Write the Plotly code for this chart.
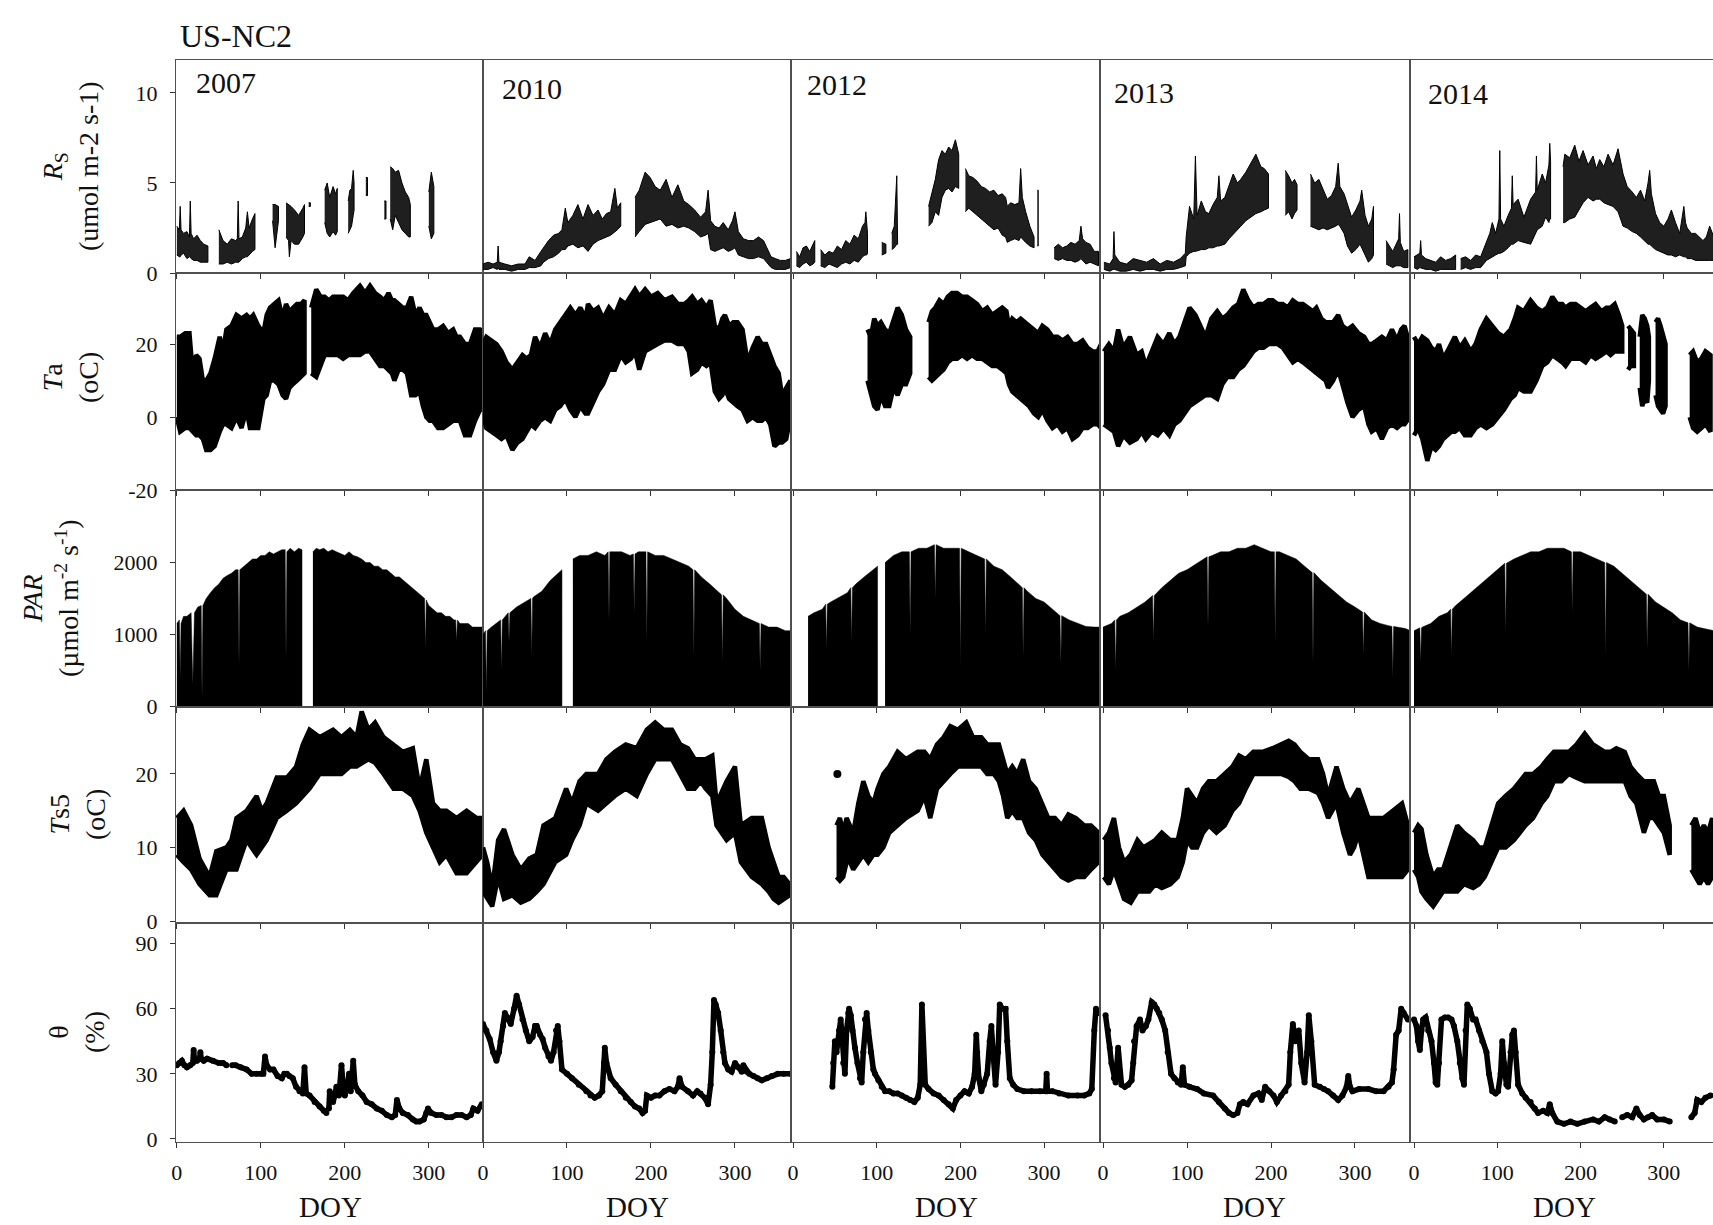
import plotly.graph_objects as go

# ---------------- DATA ----------------
YEARS = ["2007", "2010", "2012", "2013", "2014"]
X_TICKS = [0, 100, 200, 300]

# Soil respiration Rs: lower / upper envelope of the half-hourly trace
RS_2007_DOY = [0,3,4,5,8,12,15,16,17,20,24,28,32,37, None,
               50,55,60,65,70,72,73,74,78,82,84,86,90,93, None,
               114,117,121, None,
               130,133,134,136,140,145,150,152, None,
               157,159, None,
               176,179,182,186,189,191, None,
               204,206,208,210,211, None,
               225,227, None,
               247,249, None,
               254,257,260,264,268,272,276,278, None,
               300,303,306]
RS_2007_LO = [1.0,0.9,0.9,1.0,1.1,0.8,0.9,0.9,0.8,0.7,0.7,0.6,0.6,0.6, None,
              0.5,0.5,0.6,0.5,0.6,0.6,0.6,0.6,0.8,0.9,0.9,1.0,1.2,1.3, None,
              2.9,1.4,2.9, None,
              2.0,1.8,0.9,1.8,1.6,1.6,2.0,2.2, None,
              3.7,3.7, None,
              2.8,2.2,2.0,2.3,2.1,2.3, None,
              2.2,2.4,2.6,3.2,3.5, None,
              4.3,4.3, None,
              3.0,3.0, None,
              3.0,2.4,3.2,2.8,2.4,2.2,2.0,2.0, None,
              2.6,1.9,2.2]
RS_2007_HI = [2.6,2.4,3.7,2.4,2.2,2.3,2.0,4.0,2.2,1.9,2.1,1.8,1.6,1.5, None,
              2.4,1.8,1.6,1.9,1.8,1.9,4.0,1.9,2.0,2.5,3.4,2.5,3.0,3.3, None,
              3.8,3.8,3.7, None,
              3.9,3.8,3.8,3.7,3.5,3.2,3.6,3.8, None,
              3.9,3.9, None,
              4.6,5.0,4.2,4.8,4.4,4.7, None,
              4.0,4.6,4.7,5.7,5.0, None,
              5.3,5.3, None,
              4.0,4.0, None,
              5.9,5.8,5.6,5.7,5.0,4.5,4.2,3.8, None,
              4.5,5.6,4.8]

RS_2010_DOY = [0,6,12,17,18,19,26,34,42,50,55,62,69,72,78,84,90,94,98,101,107,113,119,125,131,137,142,147,152,157,160,164, None,
               181,186,193,199,205,211,218,225,232,239,245,252,259,265,268,271,276,281,286,292,297,300,304,310,316,322,328,334,338,343,348,354,360,366]
RS_2010_LO = [0.2,0.2,0.3,0.2,0.3,0.2,0.2,0.1,0.2,0.2,0.3,0.3,0.4,0.6,0.8,0.9,1.1,1.3,1.3,1.5,1.6,1.4,1.5,1.2,1.6,1.8,1.9,2.0,2.1,2.3,2.4,2.6, None,
              2.0,2.3,2.7,2.8,2.9,3.0,2.6,2.7,2.5,2.6,2.5,2.3,2.0,2.1,2.2,1.3,1.2,1.3,1.4,1.2,1.3,1.4,1.0,0.9,0.8,0.8,0.9,0.8,0.6,0.3,0.2,0.2,0.2,0.3]
RS_2010_HI = [0.5,0.6,0.5,0.6,1.5,0.6,0.5,0.4,0.5,0.5,0.9,0.7,1.2,1.4,1.8,2.1,2.2,2.4,3.6,2.8,3.2,3.8,3.0,3.8,3.2,3.5,3.0,3.3,3.4,4.7,3.6,3.9, None,
              4.2,4.6,5.6,5.3,4.8,4.6,5.2,4.2,4.9,4.0,3.8,3.5,3.1,3.4,4.6,2.9,2.6,2.5,2.8,2.4,2.9,3.4,2.3,1.9,1.8,1.8,2.0,1.8,1.4,0.9,0.8,0.7,0.7,0.8]

RS_2012_DOY = [4,8,12,16,20,24,26, None,
               33,38,43,48,53,58,63,68,73,78,83,86,87,88,89, None,
               106,111, None,
               118,121,124,125, None,
               162,166,170,174,178,182,186,190,194,198, None,
               206,210,215,220,225,230,235,240,245,250,254,256,260,265,270,272,274,278,283,288, None,
               292,293, None,
               312,317,322,327,332,337,342,344,346,350,355,360,365]
RS_2012_LO = [0.4,0.3,0.5,0.6,0.4,0.5,0.6, None,
              0.4,0.3,0.5,0.4,0.3,0.5,0.6,0.5,0.7,0.6,0.9,1.0,1.0,1.0,1.1, None,
              1.0,1.1, None,
              1.3,1.4,1.6,1.6, None,
              2.6,2.8,3.4,3.2,4.2,4.6,4.7,4.5,4.8,4.7, None,
              3.4,3.6,3.4,3.2,3.0,2.8,2.6,2.4,2.5,2.1,2.0,1.7,1.8,1.9,1.8,2.0,1.9,1.7,1.5,1.4, None,
              1.5,1.5, None,
              0.8,0.7,0.8,0.7,0.7,0.6,0.7,0.8,0.7,0.5,0.6,0.5,0.4]
RS_2012_HI = [1.2,0.9,1.4,1.5,1.2,1.6,1.8, None,
              1.3,1.0,1.2,1.1,1.5,1.3,1.8,1.6,2.1,1.9,2.6,2.8,3.4,2.7,2.2, None,
              1.7,1.6, None,
              2.2,2.6,5.4,3.0, None,
              3.7,4.5,5.2,6.3,6.8,6.6,7.0,6.8,7.4,6.6, None,
              5.8,5.4,5.3,5.1,4.8,4.7,4.5,4.6,4.3,4.4,4.2,3.7,3.9,3.8,3.9,5.8,4.2,3.4,2.6,2.0, None,
              4.6,4.6, None,
              1.4,1.6,1.4,1.5,1.7,1.6,1.8,2.6,1.9,1.7,1.6,1.2,1.2]

RS_2013_DOY = [1,8,12,13,14,20,28,36,44,52,60,68,76,84,92,98,
               99,103,108,110,112,117,122,126,131,136,138,140,145,150,155,160,164,170,176,182,188,192,197, None,
               217,221,225,228,231, None,
               247,252,257,262,267,272,277,280,282,287,291,296,301,306,308,312,316,320,322, None,
               337,341,345,349,352,353,354,358,363]
RS_2013_LO = [0.2,0.1,0.2,0.2,0.2,0.1,0.1,0.2,0.1,0.2,0.2,0.1,0.2,0.2,0.3,0.4,
              0.9,1.1,1.2,1.2,1.2,1.3,1.3,1.4,1.4,1.5,1.5,1.5,1.6,1.9,2.2,2.4,2.6,2.9,3.1,3.3,3.4,3.5,3.6, None,
              3.2,3.4,3.0,3.3,3.5, None,
              2.6,2.5,2.4,2.5,2.4,2.5,2.6,2.7,2.6,2.2,1.5,1.1,1.3,1.6,1.4,1.0,0.6,0.8,1.0, None,
              0.5,0.4,0.3,0.4,0.4,0.4,0.4,0.3,0.3]
RS_2013_HI = [0.6,0.5,0.8,2.3,1.0,0.6,0.5,0.8,0.7,0.6,0.8,0.5,0.7,0.6,0.8,1.1,
              2.0,3.7,3.0,6.5,3.2,4.0,3.4,3.3,3.8,4.2,5.4,4.0,4.2,4.8,5.5,5.0,5.2,5.6,6.1,6.6,5.9,5.8,5.5, None,
              5.7,5.4,5.0,5.2,4.9, None,
              5.5,5.0,5.2,4.6,4.1,4.3,4.8,6.1,4.8,4.4,3.8,3.1,3.5,4.0,4.6,3.2,2.6,3.0,3.7, None,
              1.8,1.5,1.2,1.6,1.9,3.3,1.7,1.2,1.3]

RS_2014_DOY = [0,4,7,8,9,14,20,26,32,38,44,50, None,
               56,62,68,74,80,87,91,94,98,102,103,104,108,113,117,118,119,125,132,140,146,147,148,154,158,162,163,164, None,
               179,181,187,193,198,203,209,215,219,223,228,233,239,245,251,256,262,267,272,277,
               281,283,285,290,295,300,305,309,314,319,324,326,328,333,338,343,347,351,355,360]
RS_2014_LO = [0.3,0.2,0.3,0.3,0.3,0.2,0.2,0.1,0.2,0.2,0.2,0.2, None,
              0.2,0.3,0.2,0.3,0.3,0.7,0.8,0.9,1.0,1.1,1.1,1.1,1.2,1.4,1.6,1.6,1.6,1.8,1.7,1.6,2.2,2.3,2.4,2.6,3.1,2.8,3.0,3.0, None,
              2.8,2.8,3.0,3.1,3.5,3.9,4.2,4.0,4.1,4.1,3.9,3.8,3.7,3.4,2.6,2.5,2.3,2.2,2.0,1.8,
              1.6,1.6,1.5,1.3,1.2,1.1,1.0,1.0,0.9,1.0,0.9,0.9,0.8,0.8,0.7,0.7,0.7,0.7,0.7,0.7]
RS_2014_HI = [0.9,1.0,1.1,1.8,1.0,0.8,0.7,0.6,0.9,0.7,0.8,1.0, None,
              0.8,0.9,0.7,1.0,0.9,1.8,2.2,2.8,2.2,3.0,6.8,3.0,2.6,3.2,3.6,5.4,3.8,4.1,3.1,4.1,4.5,6.5,4.6,5.5,5.0,6.0,7.2,6.2, None,
              5.9,6.6,6.4,7.1,6.2,6.8,6.0,6.5,5.8,6.3,5.9,6.6,6.0,6.9,5.5,4.8,4.5,4.2,4.6,4.0,
              5.0,5.7,4.4,3.3,2.8,2.6,3.0,3.5,2.8,2.2,3.7,2.8,2.5,2.2,2.2,2.0,1.8,2.0,2.6,2.0]

# Air temperature Ta: lower / upper envelope
TA_2007_DOY = [0,4,10,15,19,23,27,31,35,40,45,51,55,59,65,71,77,83,87,91,97,103,107,111,116,121,126,130,134,138,143,148,152, None,
               160,166,171,176,181,186,192,198,204,210,218,224,230,236,242,247,252,256,259,264,269,274,279,284,289,293,297,301,305,311,317,323,329,333,337,343,349,355,361,365]
TA_2007_HI = [22,22,23,23,12,17,16,10,10,12,16,22,18,24,25,28,27,28,27,28,25,23,28,30,31,32,27,31,29,30,31,31,32, None,
              30,35,33,33,32,33,33,33,32,34,36,34,36,34,33,32,34,32,32,31,30,30,33,28,30,28,28,26,24,24,25,23,24,22,22,20,20,24,24,23]
TA_2007_LO = [0,-4,-3,-3,-4,-5,-5,-6,-9,-9,-8,-4,-2,-2,-3,0,-3,2,-3,-3,-3,5,6,10,10,9,6,5,8,9,10,11,12, None,
              12,11,14,17,17,17,17,16,17,17,17,18,18,16,14,14,13,12,10,13,13,12,6,6,7,3,0,-1,-1,-3,-3,-2,-1,-1,-1,-5,-5,-1,2,2]

TA_2010_DOY = [0,4,10,16,22,28,35,41,47,52,57,62,68,74,80,86,92,98,104,110,116,122,125,131,137,143,150,157,164,170,
               176,181,186,193,200,208,216,225,232,240,245,249,255,260,266,271,276,281,285,288,293,298,303,309,315,321,327,332,337,342,
               347,352,356,361,366]
TA_2010_HI = [20,22,21,20,18,15,13,15,17,16,17,22,19,23,20,24,26,28,30,28,30,27,31,29,30,27,30,28,32,31,
              33,35,33,35,33,34,32,33,31,31,32,33,31,32,30,32,25,24,27,28,25,26,26,24,15,19,22,20,20,17,
              14,12,6,8,10]
TA_2010_LO = [0,-3,-4,-5,-6,-5,-9,-7,-6,-4,-2,-3,-1,0,-1,2,3,5,2,0,3,1,1,4,7,9,13,13,17,15,
              16,18,13,18,19,20,21,21,20,20,18,12,13,15,14,15,7,5,6,8,5,4,3,2,-1,0,-1,-1,0,-2,
              -8,-7,-7,-6,0]

TA_2012_DOY = [89,93,97,101,105,110,115,120,125,130,135,140, None,
               162,166,170,175,180,185,190,196,202,208,214,220,226,232,238,244,250,255,258,262,267,272,277,282,288,293,298,304,310,316,322,328,334,340,346,352,358,364,368]
TA_2012_HI = [24,22,27,25,26,24,23,27,30,28,24,22, None,
              26,29,30,32,31,33,34,34,33,33,32,31,29,30,28,29,30,29,25,27,26,27,26,25,24,23,25,24,22,22,21,22,20,20,21,19,18,18,20]
TA_2012_LO = [10,7,3,2,6,3,3,8,6,9,9,12, None,
              11,10,11,12,13,15,16,16,17,16,17,16,16,15,14,14,13,12,9,7,6,5,4,3,1,0,2,-1,-3,-2,-4,-3,-6,-5,-3,-3,-2,-2,-3]

TA_2013_DOY = [1,7,13,18,24,32,40,46,51,58,65,72,79,85,91,97,103,110,116,122,129,136,142,148,155,161,167,173,179,185,
               191,197,202,208,214,220,226,232,238,244,250,254,260,265,268,274,280,285,291,297,304,311,316,320,326,332,338,344,350,355,359,365]
TA_2013_HI = [18,20,18,24,19,22,17,18,14,18,22,20,23,20,22,26,30,28,25,22,27,29,27,28,30,31,35,32,30,31,
              31,32,32,31,31,30,32,31,31,30,29,30,27,26,26,26,28,25,24,25,23,22,20,20,21,22,21,24,21,24,25,20]
TA_2013_LO = [-2,-3,-4,-8,-5,-7,-6,-4,-6,-4,-5,-3,-5,-2,-1,1,3,4,5,6,6,5,9,11,11,13,14,16,18,19,
              19,20,20,20,19,17,15,16,15,14,13,12,11,10,8,10,13,9,4,0,2,3,-2,-4,-3,-6,-3,-2,-3,-2,-2,0]

TA_2014_DOY = [0,5,10,16,21,26,30,35,40,45,49,55,61,68,74,80,87,94,101,108,116,121,125,132,140,147,154,160,166,172,
               178,182,188,194,200,206,212,218,225,231,236,241,246,250, None,
               257,260,264, None,
               271,274,277,280,282, None,
               290,293,296,299,302, None,
               331,335,340,345,350,356]
TA_2014_HI = [22,20,22,21,19,18,20,16,18,20,22,19,21,18,20,24,27,25,23,22,24,27,30,29,32,30,29,30,33,31,
              31,30,31,31,30,29,30,31,29,30,30,31,28,25, None,
              25,24,23, None,
              22,28,27,25,22, None,
              26,27,25,22,20, None,
              17,18,15,16,18,17]
TA_2014_LO = [-5,-3,-6,-12,-8,-9,-8,-6,-5,-4,-4,-3,-5,-5,-3,-2,-3,-2,0,2,5,6,8,7,7,10,14,15,17,16,
              15,14,16,16,16,15,17,16,17,18,17,18,18,18, None,
              13,14,14, None,
              8,3,5,4,10, None,
              6,3,2,1,3, None,
              0,-3,-4,-3,-2,-4]

# PAR: upper envelope (daily maxima incl. some cloudy days); fills down to zero
PAR_2007_DOY = [0,3,4,5,8,12,17,19,21,25,29,30,31,35,40,45,50,55,60,65,70,73,74,75,80,85,90,95,100,105,
                110,115,120,125,129,130,131,135,140,145,149, None,
                162,166,170,175,180,185,190,195,200,205,210,215,220,225,230,235,240,245,250,255,
                260,265,270,275,280,285,290,295,296,297,298,300,305,310,315,320,325,330,332,333,
                334,337,342,347,352,357,362,364]
PAR_2007 = [1150,1200,400,1150,1250,1250,1300,300,1300,1380,1400,100,1400,1500,1580,1650,1700,1780,1820,1850,
            1900,1900,550,1900,1950,2000,2050,2050,2100,2100,2150,2120,2150,2180,2180,650,2150,2200,2150,2200,2180, None,
            2150,2200,2180,2200,2150,2180,2150,2120,2100,2150,2100,2080,2050,2000,2000,1950,1950,1900,1900,1850,
            1800,1800,1750,1700,1650,1600,1550,1500,800,1480,1450,1400,1350,1300,1300,1250,1250,1200,1200,900,
            1200,1150,1150,1150,1100,1100,1100,1100]
PAR_2010_DOY = [0,3,4,5,10,20,21,22,23,30,31,32,40,50,57,58,59,60,70,80,90,94, None,
                107,115,125,135,145,149,150,151,155,165,175,179,180,181,185,194,195,196,205,215,
                225,235,245,250,251,252,260,270,280,284,285,286,290,300,310,320,329,330,331,340,
                350,360,366]
PAR_2010 = [1000,1050,200,1050,1100,1200,1200,500,1200,1300,900,1300,1380,1450,1500,700,1500,1520,1600,1750,1850,1900, None,
            2050,2100,2100,2150,2100,2150,1200,2150,2150,2150,2100,2120,1300,2120,2150,2150,900,2150,2100,2100,
            2050,2000,1950,1900,700,1900,1800,1700,1600,1550,600,1550,1500,1350,1250,1200,1150,500,1150,1100,
            1100,1050,1050]
PAR_2012_DOY = [18,25,35,39,40,41,45,55,65,69,70,71,75,85,95,101, None,
                110,120,130,139,140,141,150,160,169,170,171,180,190,199,200,201,210,220,229,230,
                231,240,250,260,270,274,275,276,280,290,300,310,319,320,321,330,340,350,360,366]
PAR_2012 = [1250,1300,1350,1420,800,1420,1450,1520,1580,1650,900,1650,1700,1800,1900,1950, None,
            2000,2100,2150,2150,1000,2150,2200,2200,2250,1500,2250,2200,2200,2200,600,2200,2150,2100,2050,1000,
            2050,1950,1900,1800,1700,1650,700,1650,1600,1500,1450,1350,1260,600,1260,1200,1150,1110,1100,1100]
PAR_2013_DOY = [0,10,14,15,16,20,30,40,50,59,60,61,70,80,90,100,110,120,124,125,
                126,130,140,150,160,170,180,190,200,204,205,206,210,220,230,240,249,250,251,260,
                270,280,290,300,309,310,311,320,330,340,344,345,346,350,360,366]
PAR_2013 = [1100,1150,1200,500,1200,1250,1300,1380,1450,1540,900,1540,1650,1750,1850,1900,1980,2050,2080,1100,
            2080,2100,2150,2150,2200,2200,2250,2200,2150,2150,900,2150,2150,2100,2050,1950,1860,600,1860,1750,
            1650,1550,1450,1380,1310,700,1310,1200,1150,1120,1110,400,1110,1100,1080,1050]
PAR_2014_DOY = [0,7,8,9,10,20,30,40,44,45,46,50,60,70,80,90,100,109,110,111,
                120,130,140,150,160,170,180,189,190,191,200,210,220,229,230,231,240,250,260,270,
                279,280,281,290,300,310,320,329,330,331,340,350,360]
PAR_2014 = [1050,1090,600,1090,1100,1150,1250,1300,1350,700,1350,1400,1500,1600,1700,1800,1900,1990,1000,1990,
            2050,2100,2150,2150,2200,2200,2200,2150,1300,2150,2150,2100,2050,2000,700,2000,1950,1850,1750,1650,
            1560,800,1560,1450,1380,1300,1200,1160,500,1160,1100,1080,1050]

# Soil temperature at 5 cm Ts5: lower / upper envelope
TS5_2007_DOY = [0,8,17,27,39,47,59,65,71,83,95,101,107,119,131,142,150,158,170,186,
                196,206,214,220,228,236,246,258,269,281,289,297,305,313,321,333,345,357,364]
TS5_2007_HI = [14,15,13,8.5,6,9.5,10,11,14,15,17,15,16,19.5,19.5,21,24,26,25,26,
               25,26,25,28.5,26,27,25,24,23,23.5,18,22,16,15,15,14,15,14,14]
TS5_2007_LO = [9,8,7,5,3.5,3.5,7,7,7,11,9,10,11,14,15,16,17,18,20,20,
               20,21,21,21.5,22,21.5,20,18,18,17,15,12,10,8,9,6.5,6.5,8,9]
TS5_2010_DOY = [0,5,11,18,25,35,45,55,64,72,86,99,106,115,123,137,147,157,170,183,
                195,205,215,225,235,244,252,259,265,273,278,290,300,307,320,332,340,346,352,358,365]
TS5_2010_HI = [10,8,4.5,11,12.5,9,7,8.5,9,13,14,18,16,19,20,20,22,23,24,23.5,
               26,27,26,26,24,23.5,22,22,22,22.5,16,19,21,13,14,14,10,8,6,6,5]
TS5_2010_LO = [4,3,2,6,3,3.5,2.5,3,4,5,8,9,11,13,16,15,16,17,18,17,
               20,22,22,22,20,18,18,19,18,17,13,11,12,8,6,5,4,3,2.5,3,3.5]
TS5_2012_DOY = [52,56,60,64,68,72,78,84,90,96,101,108,115,125,135,149,157,164,172,180,
                188,197,207,215,225,232,240,246,251,256,262,268,275,282,290,298,305,313,321,329,338,348,356,365]
TS5_2012_HI = [13,14,12,14,13,12,16,19,17,16,18,20,21,23,22,23,23,22,24,25,
               26.5,26,27,25,25,24,24,24,22,20,21,20,22,19,18,16,14,14,13,14.5,14,13,13,12]
TS5_2012_LO = [6,5.5,6,8,8,7,8,9,8,9,9,10,12,13,14,15,17,14,18,19,
               20,21,21,21,21,20,20,19,17,14,15,14,14,12,11,9,8,7,6,5.5,6,6,7,8]
TS5_2012_DOT_DOY = [53]
TS5_2012_DOT = [20]
TS5_2013_DOY = [1,7,13,19,25,33,41,48,55,62,70,80,89,95,100,106,112,119,126,135,
                145,154,162,170,179,190,202,212,221,228,235,245,256,262,268,273,278,286,294,299,
                304,310,316,325,334,345,356,363]
TS5_2013_HI = [11,12,14,10,8,9,11,10,10.5,11,12,11,11,14,18,17,16,18,19,19,
               20,21,22.5,22,23,23,23.5,24,24.5,24,23,22,22,20,17,19,21,18,16,17,
               18,16,14,14,14,15,16,13]
TS5_2013_LO = [6,5,7,5,3,2.5,4,4,4,5,4.5,5,6,8,11,10,10,12,13,12,
               13,15,16,18,20,20,20,20,19.6,19,18,18,17.4,16,14,15,16,12,9,10,
               12,9,6,6,6,6,6,7]
TS5_2014_DOY = [0,5,9,15,23,29,35,43,52,60,71,78,85,93,101,110,120,127,134,143,
                153,160,168,177,186,195,205,215,229,236,243,253,260,267,276,282,288,294,300,307, None,
                333,338,343,348,353,358]
TS5_2014_HI = [12,13,12.5,9,6,7,7,10,13,12,11,10,10,13,16,17,18,19,20,20,
               21,22,23,23,23,24,25.5,24,23,23,23.5,23,21,20,19,19,19,17,17,13, None,
               13,14,12,13,12,14]
TS5_2014_LO = [7,6,4,3,2,3,4,4,4,5,4.5,5,6,8,10,10,11,12,13,14,
               16,17,19,19,20,19.5,19,19,19,19,19,19,17,16,12,14,14,13,12,9, None,
               7,6,5,6,5,6]

# Soil water content theta (%)
TH_2007_DOY = [0,3,6,9,12,16,19,20,21,24,27,28,29,32,36,43,50,55,59, None,
               66,70,76,83,89,95,100,103,105,107,111,115,120,125,128,131,134,138,142,146,150,152,154,158,164,170,175,178, None,
               181,182,184,186,188,190,193,196,198,200,203,205,207,210,212,216,221,226,232,238,244,250,256,260,262,265,269,
               275,281,285,289,294,297,299,303,309,315,321,327,333,339,345,350,353,358,363]
TH_2007 = [34,35,36,34,33,34,35,41,36,36,37,40,37,36,37,36,35,35,34, None,
           34,34,33,32,30,30,30,30,38,34,32,32,29,28,30,30,29,28,24,22,21,33,21,20,17,15,13,12, None,
           14,22,18,17,20,24,20,34,25,20,24,30,22,36,25,22,20,17,16,14,13,11,10,11,18,14,12,
           11,9,8,8,9,12,14,12,11,11,10,10,11,11,10,11,14,13,16]
TH_2010_DOY = [0,4,8,12,16,19,21,24,26,29,33,37,40,43,47,51,55,59,62,64,68,71,74,78,81,84,87,89,91,94,
               100,106,114,123,128,133,138,142,144,145,147,152,158,164,170,176,181,186,190,193,
               195,200,205,210,216,222,228,232,234,237,244,250,255,259,264,268,271,273,275,277,
               280,283,286,288,292,296,300,304,308,310,314,317,322,327,332,338,344,351,358,366]
TH_2010 = [53,50,46,40,36,40,45,52,58,56,53,60,66,62,55,50,45,47,52,52,48,46,42,38,36,40,50,52,45,32,
           30,28,25,22,20,19,20,22,35,42,35,28,25,22,19,17,15,14,12,13,
           20,19,20,20,22,23,22,24,28,24,22,20,22,21,19,16,25,40,64,62,
           58,50,40,35,32,31,35,33,31,34,31,30,29,28,27,28,29,30,30,30]
TH_2012_DOY = [47,48,50,52,55,57,59,60,62,64,66,67,69,71,74,77,80,82,84,86,88,90,93,96,98,102,106,110,115,120,
               125,130,135,140,145,149,152,154,156,158,162,168,174,180,186,191,195,200,205,210,
               214,217,219,220,222,225,228,232,235,237,239,242,245,247,250,254,256,259,263,268,
               276,285,295,302,303,304,310,318,329,340,348,354,357,360,362,364]
TH_2012 = [24,35,45,40,50,55,45,35,30,50,58,60,57,50,42,35,28,26,40,55,58,50,40,32,30,27,24,22,22,21,
           21,20,19,18,17,19,25,62,35,25,23,21,20,18,16,14,18,20,22,21,
           24,30,48,40,28,22,25,30,45,52,40,25,40,62,60,60,45,28,25,23,
           22,22,22,22,30,22,22,21,20,20,20,21,23,50,60,58]
TH_2013_DOY = [3,6,8,10,13,15,18,20,22,26,30,34,36,37,40,44,47,51,54,58,61,64,67,70,74,77,81,85,89,93,
               95,97,103,112,120,131,138,145,150,155,160,163,167,172,179,185,189,193,198,203,
               207,212,217,221,223,226,229,233,236,240,243,245,248,252,258,263,268,274,280,285,
               290,292,294,297,305,316,325,334,340,344,346,349,352,355,358,363]
TH_2013 = [57,50,42,35,28,26,42,30,25,24,25,27,35,45,52,55,50,52,55,63,62,60,58,55,50,40,30,28,26,25,
           33,25,24,23,21,20,17,14,12,11,12,16,17,16,20,21,18,24,22,20,
           17,20,22,25,40,53,45,50,35,26,40,57,45,25,24,23,22,20,18,20,
           24,29,24,22,23,23,22,22,24,26,32,48,50,60,58,55]
TH_2014_DOY = [0,3,5,7,9,11,14,17,21,24,26,28,30,33,37,41,45,48,52,55,58,60,62,64,67,71,74,78,82,87,
               90,94,98,101,104,106,108,111,113,116,118,120,122,125,130,134,140,145,149,155,
               160,163,166,172,180,188,196,205,215,222,229,235,241, None,
               250,256,262,267,271,276,281,286,292,300,307, None,
               333,337,340,345,350,356]
TH_2014 = [55,52,45,41,50,55,56,50,45,35,26,25,35,55,56,56,55,52,45,35,28,25,50,62,60,55,55,50,45,40,
           30,22,21,22,30,45,35,25,24,40,48,50,40,25,21,19,17,14,12,13,
           12,16,12,8,7,8,7,8,9,8,10,9,8, None,
           10,11,10,14,11,9,10,11,9,9,8, None,
           10,12,18,17,19,20]

# ---------------- LAYOUT GEOMETRY ----------------
W, H = 1713, 1225
ML, MR, MT, MB = 176, 0, 60, 83
PW, PH = W - ML - MR, H - MT - MB
COL_EDGES = [176, 483, 791, 1100, 1410, 1713]
ROW_EDGES = [60, 273, 490, 707, 923, 1142]
X_RANGES = [[-1, 364.5], [0, 366.7], [-2.4, 366.8], [-3.6, 365.5], [-4.8, 359]]
Y_RANGES = [[0, 11.83], [-20, 39.5], [-14, 3012], [-0.27, 29.1], [-1.4, 99.5]]
Y_TICKS = [[0, 5, 10], [-20, 0, 20], [0, 1000, 2000], [0, 10, 20], [0, 30, 60, 90]]
FONT = "Liberation Serif, Times New Roman, serif"
INK = "#111111"


def fx(px):
    return (px - ML) / PW


def fy(py):
    return (H - MB - py) / PH


def band_xy(doy, lo, hi):
    assert len(doy) == len(lo) == len(hi), (len(doy), len(lo), len(hi))
    xs, ys, seg = [], [], []

    def flush():
        if seg:
            d = [s[0] for s in seg]
            xs.extend(d + d[::-1] + [None])
            ys.extend([s[2] for s in seg] + [s[1] for s in seg][::-1] + [None])
            seg.clear()

    for d, l, h in zip(doy, lo, hi):
        if d is None:
            flush()
        else:
            seg.append((d, l, h))
    flush()
    return xs, ys


fig = go.Figure()


def ax_names(r, c):
    n = r * 5 + c + 1
    s = "" if n == 1 else str(n)
    return "x" + s, "y" + s, "xaxis" + s, "yaxis" + s


def add_band(r, c, doy, lo, hi, lw, fillc="black"):
    xs, ys = band_xy(doy, lo, hi)
    xa, ya, _, _ = ax_names(r, c)
    fig.add_trace(go.Scatter(x=xs, y=ys, mode="lines", fill="toself", fillcolor=fillc,
                             line=dict(color="black", width=lw), xaxis=xa, yaxis=ya,
                             hoverinfo="skip", showlegend=False))


RS = [(RS_2007_DOY, RS_2007_LO, RS_2007_HI), (RS_2010_DOY, RS_2010_LO, RS_2010_HI),
      (RS_2012_DOY, RS_2012_LO, RS_2012_HI), (RS_2013_DOY, RS_2013_LO, RS_2013_HI),
      (RS_2014_DOY, RS_2014_LO, RS_2014_HI)]
TA = [(TA_2007_DOY, TA_2007_LO, TA_2007_HI), (TA_2010_DOY, TA_2010_LO, TA_2010_HI),
      (TA_2012_DOY, TA_2012_LO, TA_2012_HI), (TA_2013_DOY, TA_2013_LO, TA_2013_HI),
      (TA_2014_DOY, TA_2014_LO, TA_2014_HI)]
PAR = [(PAR_2007_DOY, PAR_2007), (PAR_2010_DOY, PAR_2010), (PAR_2012_DOY, PAR_2012),
       (PAR_2013_DOY, PAR_2013), (PAR_2014_DOY, PAR_2014)]
TS5 = [(TS5_2007_DOY, TS5_2007_LO, TS5_2007_HI), (TS5_2010_DOY, TS5_2010_LO, TS5_2010_HI),
       (TS5_2012_DOY, TS5_2012_LO, TS5_2012_HI), (TS5_2013_DOY, TS5_2013_LO, TS5_2013_HI),
       (TS5_2014_DOY, TS5_2014_LO, TS5_2014_HI)]
TH = [(TH_2007_DOY, TH_2007), (TH_2010_DOY, TH_2010), (TH_2012_DOY, TH_2012),
      (TH_2013_DOY, TH_2013), (TH_2014_DOY, TH_2014)]

for c in range(5):
    add_band(0, c, *RS[c], lw=1.0, fillc="rgba(0,0,0,0.88)")
    add_band(1, c, *TA[c], lw=4.5)
    pd_, pv = PAR[c]
    add_band(2, c, pd_, [None if v is None else 0 for v in pv], pv, lw=0.5)
    add_band(3, c, *TS5[c], lw=4.5)
    td, tv = TH[c]
    assert len(td) == len(tv)
    xa, ya, _, _ = ax_names(4, c)
    fig.add_trace(go.Scatter(x=td, y=tv, mode="lines+markers",
                             line=dict(color="black", width=5.5),
                             marker=dict(color="black", size=6),
                             xaxis=xa, yaxis=ya, hoverinfo="skip", showlegend=False))

xa, ya, _, _ = ax_names(3, 2)
fig.add_trace(go.Scatter(x=TS5_2012_DOT_DOY, y=TS5_2012_DOT, mode="markers",
                         marker=dict(color="black", size=8), xaxis=xa, yaxis=ya,
                         hoverinfo="skip", showlegend=False))

layout = dict(width=W, height=H, margin=dict(l=ML, r=MR, t=MT, b=MB),
              paper_bgcolor="white", plot_bgcolor="white",
              font=dict(family=FONT, color=INK, size=22), showlegend=False)

for r in range(5):
    for c in range(5):
        xa, ya, xk, yk = ax_names(r, c)
        layout[xk] = dict(domain=[fx(COL_EDGES[c]), fx(COL_EDGES[c + 1])], anchor=ya,
                          range=X_RANGES[c], tickvals=X_TICKS,
                          ticktext=[str(v) for v in X_TICKS],
                          ticks="outside", ticklen=5,
                          tickcolor="#333", showticklabels=(r == 4), ticklabelstandoff=6,
                          showline=True, mirror=True, linecolor="#505050", linewidth=1,
                          showgrid=False, zeroline=False,
                          tickfont=dict(family=FONT, size=22, color=INK))
        layout[yk] = dict(domain=[fy(ROW_EDGES[r + 1]), fy(ROW_EDGES[r])], anchor=xa,
                          range=Y_RANGES[r], tickvals=Y_TICKS[r],
                          ticktext=[str(v) for v in Y_TICKS[r]],
                          ticks="outside" if c == 0 else "", ticklen=5, tickcolor="#333",
                          showticklabels=(c == 0), ticklabelstandoff=8,
                          showline=True, mirror=True, linecolor="#505050", linewidth=1,
                          showgrid=False, zeroline=False,
                          tickfont=dict(family=FONT, size=22, color=INK))

ann = []
ann.append(dict(text="US-NC2", x=fx(178), y=fy(36), xref="paper", yref="paper",
                xanchor="left", yanchor="middle", showarrow=False,
                font=dict(family=FONT, size=32, color=INK)))
YEAR_POS = [(194, 82), (500, 88), (805, 85), (1112, 92), (1426, 94)]
for yr, (px, py) in zip(YEARS, YEAR_POS):
    ann.append(dict(text=yr, x=fx(px), y=fy(py), xref="paper", yref="paper",
                    xanchor="left", yanchor="middle", showarrow=False,
                    font=dict(family=FONT, size=30, color=INK)))
DOY_X = [330, 637, 946, 1254, 1564]
for px in DOY_X:
    ann.append(dict(text="DOY", x=fx(px), y=fy(1207), xref="paper", yref="paper",
                    xanchor="center", yanchor="middle", showarrow=False,
                    font=dict(family=FONT, size=29, color=INK)))
Y_TITLES = [
    ("<i>R</i><sub>S</sub><br>(umol m-2 s-1)", 70, 166),
    ("<i>T</i>a<br>(oC)", 71, 378),
    ("<i>PAR</i><br>(µmol m<sup>-2</sup> s<sup>-1</sup>)", 50, 598),
    ("<i>T</i>s5<br>(oC)", 77, 815),
    ("θ<br>(%)", 76, 1032),
]
for txt, px, py in Y_TITLES:
    ann.append(dict(text=txt, x=fx(px), y=fy(py), xref="paper", yref="paper",
                    xanchor="center", yanchor="middle", showarrow=False, textangle=-90,
                    font=dict(family=FONT, size=28, color=INK)))
layout["annotations"] = ann

fig.update_layout(**layout)
fig.write_html("out.html")
